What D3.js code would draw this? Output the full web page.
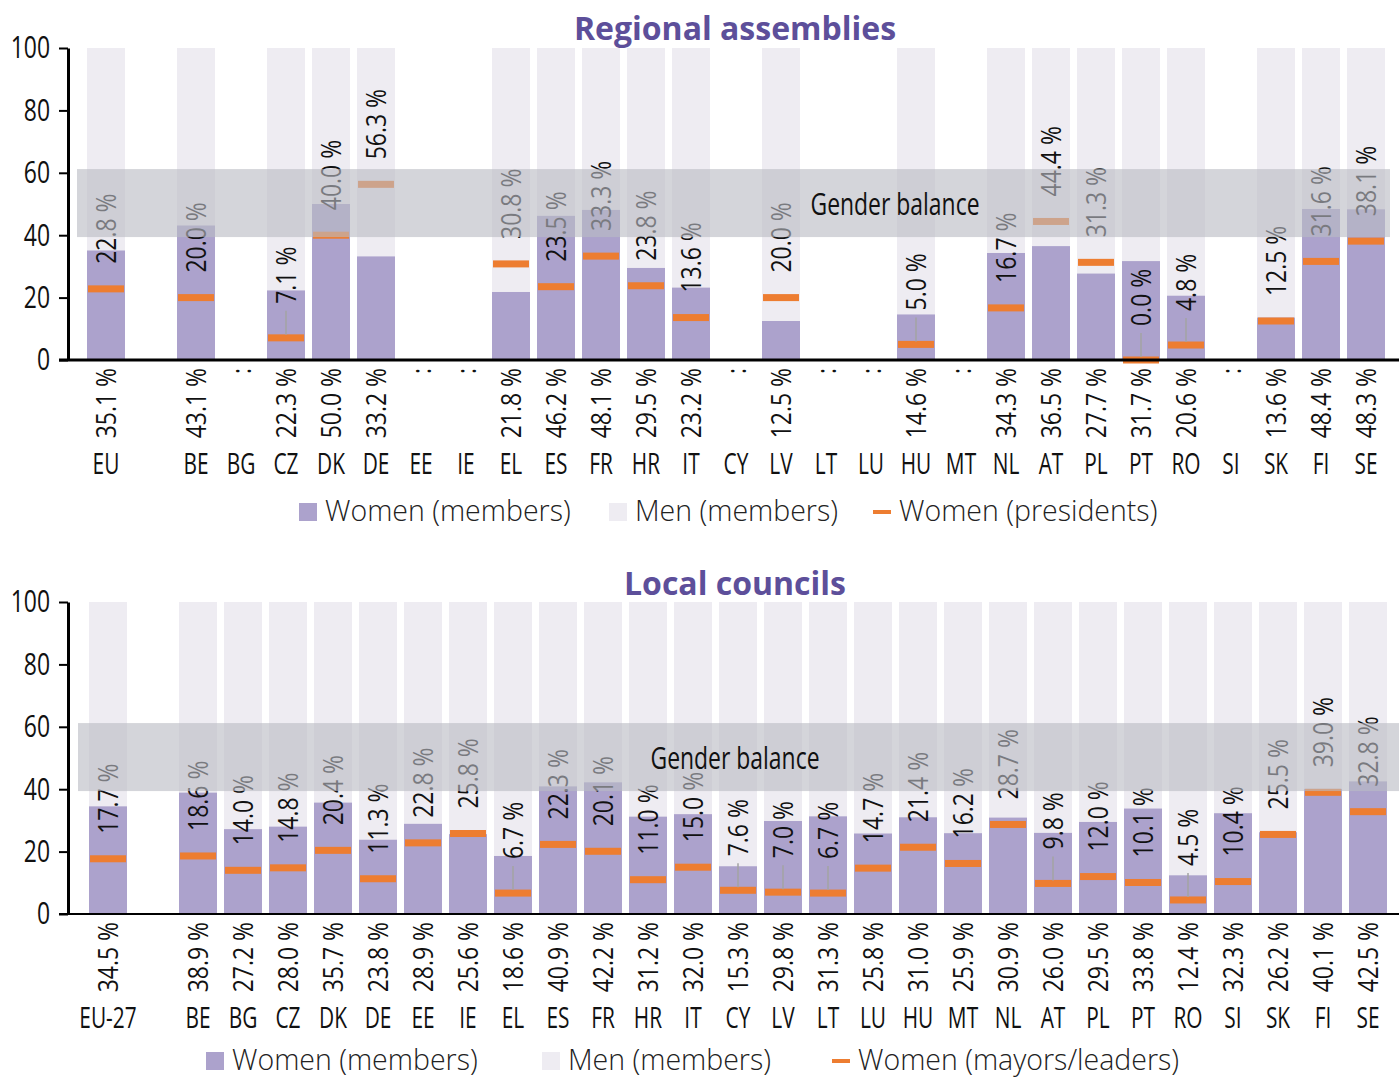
<!DOCTYPE html>
<html>
<head>
<meta charset="utf-8">
<script src="https://cdn.jsdelivr.net/npm/d3@7"></script>
<style>
  body { margin: 0; background: #fff; }
  svg { display: block; }
</style>
</head>
<body>
<svg width="1399" height="1077"></svg>
<script>
// ---- data (":" = not available -> null) ----
var regionalCodes = ["EU","BE","BG","CZ","DK","DE","EE","IE","EL","ES","FR","HR","IT","CY","LV","LT","LU","HU","MT","NL","AT","PL","PT","RO","SI","SK","FI","SE"];
var regionalMembers = [35.1, 43.1, null, 22.3, 50.0, 33.2, null, null, 21.8, 46.2, 48.1, 29.5, 23.2, null, 12.5, null, null, 14.6, null, 34.3, 36.5, 27.7, 31.7, 20.6, null, 13.6, 48.4, 48.3];
var regionalPresidents = [22.8, 20.0, null, 7.1, 40.0, 56.3, null, null, 30.8, 23.5, 33.3, 23.8, 13.6, null, 20.0, null, null, 5.0, null, 16.7, 44.4, 31.3, 0.0, 4.8, null, 12.5, 31.6, 38.1];

var localCodes = ["EU-27","BE","BG","CZ","DK","DE","EE","IE","EL","ES","FR","HR","IT","CY","LV","LT","LU","HU","MT","NL","AT","PL","PT","RO","SI","SK","FI","SE"];
var localMembers = [34.5, 38.9, 27.2, 28.0, 35.7, 23.8, 28.9, 25.6, 18.6, 40.9, 42.2, 31.2, 32.0, 15.3, 29.8, 31.3, 25.8, 31.0, 25.9, 30.9, 26.0, 29.5, 33.8, 12.4, 32.3, 26.2, 40.1, 42.5];
var localMayors = [17.7, 18.6, 14.0, 14.8, 20.4, 11.3, 22.8, 25.8, 6.7, 22.3, 20.1, 11.0, 15.0, 7.6, 7.0, 6.7, 14.7, 21.4, 16.2, 28.7, 9.8, 12.0, 10.1, 4.5, 10.4, 25.5, 39.0, 32.8];

var yTicks = [0, 20, 40, 60, 80, 100];
var balanceZone = [39.4, 61.2];

var svg = d3.select("svg"),
    W = +svg.attr("width");

// no condensed face installed: squeeze Open Sans horizontally
var baseFont = "'Open Sans','Noto Sans',sans-serif",
    fmt = d3.format(".1f");

var colWomen = "#aca2cc",
    colMen = "#eeecf2",
    colHead = "#ed7d31",
    colTitle = "#5d4f9a";

function drawPanel(o) {
  var g = svg.append("g");

  var domain = [o.codes[0], "_gap"].concat(o.codes.slice(1));
  var x = d3.scaleBand()
      .domain(domain)
      .range(o.xRange)
      .paddingInner(0.156)
      .paddingOuter(0.078);
  var y = d3.scaleLinear().domain([0, 100]).range(o.yRange);
  var bw = x.bandwidth();

  var rows = o.codes.map(function(c, i) {
    return { code: c, member: o.members[i], head: o.heads[i] };
  });
  var avail = rows.filter(function(d) { return d.member != null; });

  // title
  g.append("text")
    .attr("x", 735)
    .attr("y", o.titleY)
    .attr("text-anchor", "middle")
    .style("font-family", baseFont)
    .style("font-weight", "bold")
    .style("font-size", "32px")
    .style("fill", colTitle)
    .text(o.title);

  // men background (full 100)
  g.selectAll(".men")
    .data(avail)
    .enter().append("rect")
    .attr("x", function(d) { return x(d.code); })
    .attr("y", y(100))
    .attr("width", bw)
    .attr("height", y(0) - y(100))
    .style("fill", colMen);

  g.selectAll(".women")
    .data(avail)
    .enter().append("rect")
    .attr("x", function(d) { return x(d.code); })
    .attr("y", function(d) { return y(d.member); })
    .attr("width", bw)
    .attr("height", function(d) { return y(0) - y(d.member); })
    .style("fill", colWomen);

  var heads = rows.filter(function(d) { return d.head != null; });

  g.selectAll(".head")
    .data(heads)
    .enter().append("rect")
    .attr("x", function(d) { return x(d.code) + 1; })
    .attr("y", function(d) { return y(d.head) - 3.5; })
    .attr("width", bw - 2)
    .attr("height", 7)
    .style("fill", colHead);

  // leader lines for small values
  g.selectAll(".leader")
    .data(heads.filter(function(d) { return d.head < 10; }))
    .enter().append("line")
    .attr("x1", function(d) { return x(d.code) + bw / 2; })
    .attr("x2", function(d) { return x(d.code) + bw / 2; })
    .attr("y1", function(d) { return y(d.head) - 3; })
    .attr("y2", function(d) { return y(d.head) - 27; })
    .style("stroke", "#a3a3a3")
    .style("stroke-width", 1.5);

  g.selectAll(".headLabel")
    .data(heads)
    .enter().append("text")
    .attr("transform", function(d) {
      var gap = d.head < 10 ? 34 : 25;
      return "translate(" + (x(d.code) + bw / 2) + "," + (y(d.head) - gap) + ")rotate(-90)scale(0.82,1)";
    })
    .attr("dy", "0.36em")
    .style("font-family", baseFont)
    .style("font-size", "28px")
    .style("fill", "#111")
    .text(function(d) { return fmt(d.head) + " %"; });

  // gender balance zone, drawn over the bars
  g.append("rect")
    .attr("x", o.zoneX[0])
    .attr("width", o.zoneX[1] - o.zoneX[0])
    .attr("y", y(balanceZone[1]))
    .attr("height", y(balanceZone[0]) - y(balanceZone[1]))
    .style("fill", "rgb(185,187,195)")
    .style("opacity", 0.62);

  g.append("text")
    .attr("transform", "translate(" + o.zoneLabelX + "," + y(50) + ")scale(0.74,1)")
    .attr("dy", "0.36em")
    .attr("text-anchor", "middle")
    .style("font-family", baseFont)
    .style("font-size", "31px")
    .style("fill", "#111")
    .text("Gender balance");

  // y axis
  var yAxis = d3.axisLeft(y).tickValues(yTicks).tickSize(9).tickSizeOuter(0).tickPadding(9);
  var ga = g.append("g")
    .attr("transform", "translate(68,0)")
    .call(yAxis);
  ga.select(".domain").style("stroke", "#000").style("stroke-width", 3);
  ga.selectAll(".tick line").style("stroke", "#000").style("stroke-width", 2);
  ga.selectAll(".tick text")
    .attr("x", -18 / 0.74)
    .attr("transform", "scale(0.74,1)")
    .style("font-family", baseFont)
    .style("font-size", "31px")
    .style("fill", "#111");

  // x axis baseline
  g.append("line")
    .attr("x1", 59)
    .attr("x2", W)
    .attr("y1", y(0))
    .attr("y2", y(0))
    .style("stroke", "#000")
    .style("stroke-width", o.axisWidth);

  // country labels
  var xAxis = d3.axisBottom(x).tickValues(o.codes).tickSize(0).tickPadding(93);
  var gx = g.append("g")
    .attr("transform", "translate(0," + y(0) + ")")
    .call(xAxis);
  gx.select(".domain").remove();
  gx.selectAll(".tick text")
    .attr("transform", "scale(0.72,1)")
    .style("font-family", baseFont)
    .style("font-size", "29px")
    .style("fill", "#111");

  // member share labels below the axis
  g.selectAll(".memberLabel")
    .data(rows)
    .enter().append("text")
    .attr("transform", function(d) {
      return "translate(" + (x(d.code) + bw / 2) + "," + (y(0) + 8) + ")rotate(-90)scale(0.82,1)";
    })
    .attr("dy", "0.36em")
    .attr("text-anchor", "end")
    .style("font-family", baseFont)
    .style("font-size", "28px")
    .style("fill", "#111")
    .text(function(d) { return d.member == null ? ":" : fmt(d.member) + " %"; });

  // legend
  var lg = g.append("g").attr("transform", "translate(0," + o.legendY + ")");
  var items = [
    { label: "Women (members)", type: "box", color: colWomen, x: o.legendX[0] },
    { label: "Men (members)", type: "box", color: colMen, x: o.legendX[1] },
    { label: o.headLabel, type: "dash", color: colHead, x: o.legendX[2] }
  ];
  items.forEach(function(it) {
    if (it.type == "box") {
      lg.append("rect").attr("x", it.x).attr("y", -9).attr("width", 18).attr("height", 18).style("fill", it.color);
    } else {
      lg.append("rect").attr("x", it.x).attr("y", -2).attr("width", 18).attr("height", 4).style("fill", it.color);
    }
    lg.append("text")
      .attr("x", it.x + 26)
      .attr("dy", "0.33em")
      .style("font-family", baseFont)
      .style("font-weight", 300)
      .style("font-size", "28.5px")
      .style("fill", "#222")
      .text(it.label);
  });
}

drawPanel({
  title: "Regional assemblies",
  titleY: 40,
  codes: regionalCodes,
  members: regionalMembers,
  heads: regionalPresidents,
  headLabel: "Women (presidents)",
  xRange: [83.5, 1388.5],
  yRange: [360, 48],
  zoneX: [77, 1390],
  zoneLabelX: 895,
  axisWidth: 3,
  legendY: 512,
  legendX: [299, 609, 873]
});

drawPanel({
  title: "Local councils",
  titleY: 595,
  codes: localCodes,
  members: localMembers,
  heads: localMayors,
  headLabel: "Women (mayors/leaders)",
  xRange: [85.5, 1390.5],
  yRange: [914, 602],
  zoneX: [78, 1399],
  zoneLabelX: 735,
  axisWidth: 2,
  legendY: 1061,
  legendX: [206, 542, 832]
});
</script>
</body>
</html>
